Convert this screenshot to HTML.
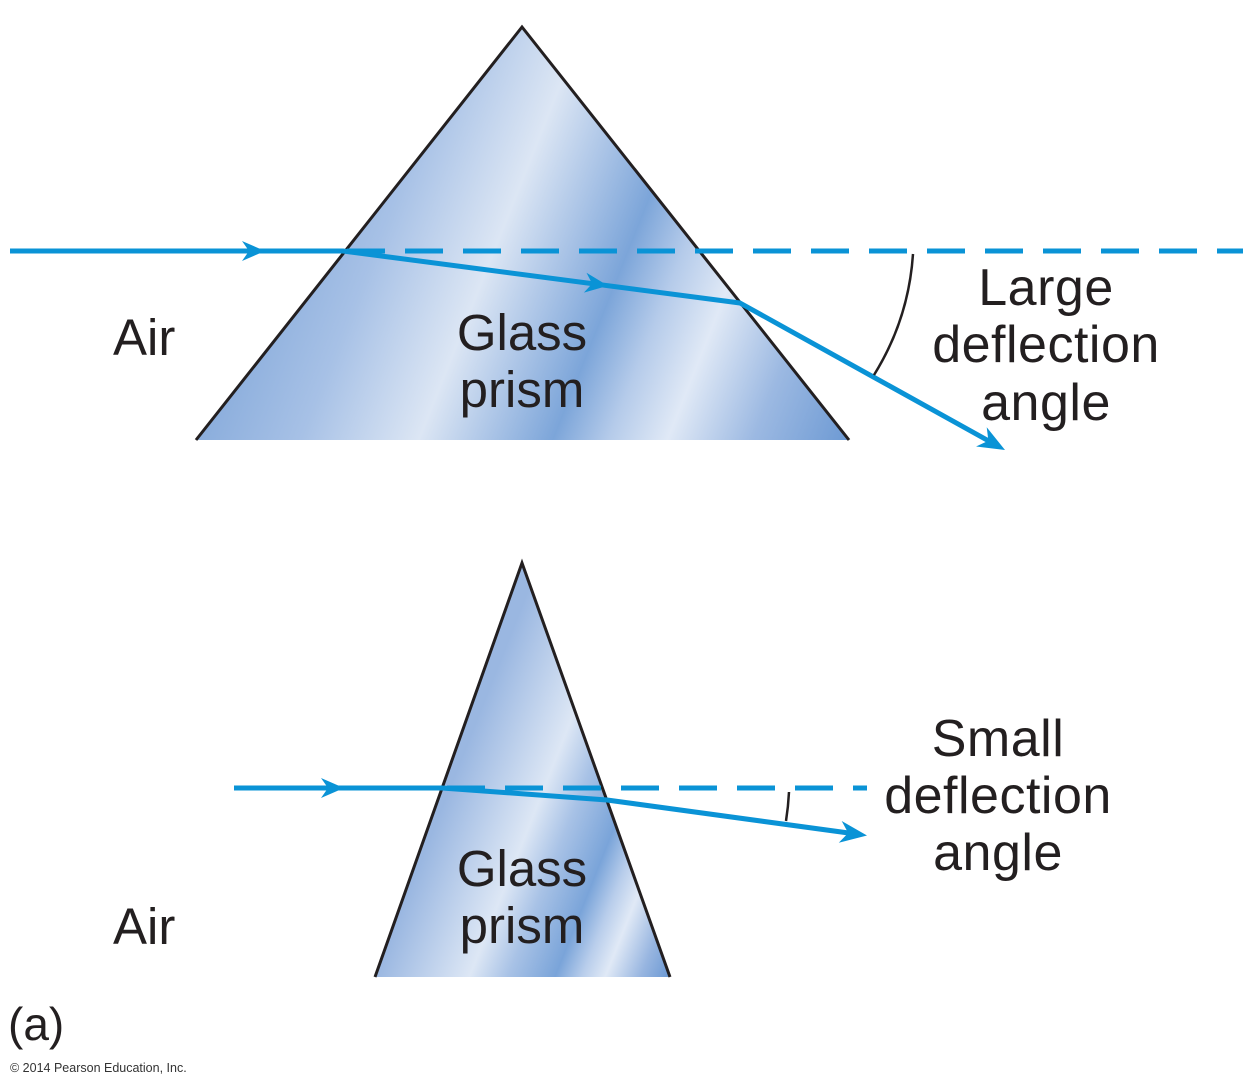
<!DOCTYPE html>
<html>
<head>
<meta charset="utf-8">
<style>
  html, body { margin:0; padding:0; background:#fff; }
  svg { display:block; }
  text { font-family: "Liberation Sans", Arial, sans-serif; fill:#231f20; }
</style>
</head>
<body>
<svg width="1253" height="1088" viewBox="0 0 1253 1088" xmlns="http://www.w3.org/2000/svg">
  <defs>
    <linearGradient id="gTop" gradientUnits="userSpaceOnUse" x1="196" y1="440" x2="761" y2="665">
      <stop offset="0" stop-color="#8aaddc"/>
      <stop offset="0.16" stop-color="#a7c1e6"/>
      <stop offset="0.34" stop-color="#dce6f4"/>
      <stop offset="0.45" stop-color="#a9c3e6"/>
      <stop offset="0.545" stop-color="#7ca5d9"/>
      <stop offset="0.63" stop-color="#b5cbea"/>
      <stop offset="0.72" stop-color="#e0e9f6"/>
      <stop offset="0.85" stop-color="#9cb9e2"/>
      <stop offset="1" stop-color="#6c99d3"/>
    </linearGradient>
    <linearGradient id="gBot" gradientUnits="userSpaceOnUse" x1="375" y1="977" x2="630" y2="1078">
      <stop offset="0" stop-color="#9ab7e1"/>
      <stop offset="0.32" stop-color="#dde7f5"/>
      <stop offset="0.45" stop-color="#a8c2e6"/>
      <stop offset="0.61" stop-color="#7aa4d9"/>
      <stop offset="0.7" stop-color="#b8cdeb"/>
      <stop offset="0.78" stop-color="#e0e9f6"/>
      <stop offset="0.9" stop-color="#97b5e0"/>
      <stop offset="1" stop-color="#6a98d3"/>
    </linearGradient>
  </defs>

  <!-- Top prism -->
  <polygon points="522,27 849,440 196,440" fill="url(#gTop)"/>
  <polyline points="196,440 522,27 849,440" fill="none" stroke="#231f20" stroke-width="3" stroke-linejoin="miter"/>

  <!-- Top rays -->
  <line x1="347" y1="251" x2="1243" y2="251" stroke="#0a93d6" stroke-width="5" stroke-dasharray="38 20"/>
  <polyline points="10,251 343,251 740,303 996,445" fill="none" stroke="#0a93d6" stroke-width="5" stroke-linejoin="round"/>
  <path d="M0,0 L-23,-10 L-16,0 L-23,10 Z" fill="#0a93d6" transform="translate(265,251)"/>
  <path d="M0,0 L-23,-10 L-16,0 L-23,10 Z" fill="#0a93d6" transform="translate(608,285.7) rotate(7.46)"/>
  <path d="M0,0 L-27,-11 L-19,0 L-27,11 Z" fill="#0a93d6" transform="translate(1005,450) rotate(29)"/>
  <!-- Large angle arc -->
  <path d="M913,254 A262,262 0 0 1 874,375" fill="none" stroke="#231f20" stroke-width="2.5"/>

  <!-- Top labels -->
  <text x="113" y="355" font-size="51">Air</text>
  <text x="522" y="350" font-size="51" text-anchor="middle">Glass</text>
  <text x="522" y="407" font-size="51" text-anchor="middle">prism</text>
  <text x="1046" y="305" font-size="52" text-anchor="middle" letter-spacing="0.5">Large</text>
  <text x="1046" y="362" font-size="52" text-anchor="middle" letter-spacing="0.5">deflection</text>
  <text x="1046" y="420" font-size="52" text-anchor="middle" letter-spacing="0.5">angle</text>

  <!-- Bottom prism -->
  <polygon points="522,563 670,977 375,977" fill="url(#gBot)"/>
  <polyline points="375,977 522,563 670,977" fill="none" stroke="#231f20" stroke-width="3" stroke-linejoin="miter"/>

  <!-- Bottom rays -->
  <line x1="447" y1="788" x2="867" y2="788" stroke="#0a93d6" stroke-width="5" stroke-dasharray="38 20"/>
  <polyline points="234,788 442,788 607,800 856,834" fill="none" stroke="#0a93d6" stroke-width="5" stroke-linejoin="round"/>
  <path d="M0,0 L-23,-10 L-16,0 L-23,10 Z" fill="#0a93d6" transform="translate(344,788)"/>
  <path d="M0,0 L-27,-11 L-19,0 L-27,11 Z" fill="#0a93d6" transform="translate(867,835.5) rotate(7.67)"/>
  <!-- Small angle arc -->
  <path d="M789,792 A270,270 0 0 1 786,821" fill="none" stroke="#231f20" stroke-width="2.5"/>

  <!-- Bottom labels -->
  <text x="113" y="944" font-size="51">Air</text>
  <text x="522" y="886" font-size="51" text-anchor="middle">Glass</text>
  <text x="522" y="943" font-size="51" text-anchor="middle">prism</text>
  <text x="998" y="756" font-size="52" text-anchor="middle" letter-spacing="0.5">Small</text>
  <text x="998" y="813" font-size="52" text-anchor="middle" letter-spacing="0.5">deflection</text>
  <text x="998" y="870" font-size="52" text-anchor="middle" letter-spacing="0.5">angle</text>

  <!-- Footer -->
  <text x="8" y="1040" font-size="46">(a)</text>
  <text x="10" y="1072" font-size="12.5" style="fill:#333">© 2014 Pearson Education, Inc.</text>
</svg>
</body>
</html>
